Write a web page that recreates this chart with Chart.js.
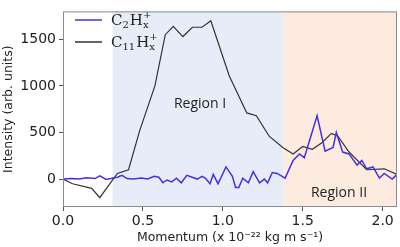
<!DOCTYPE html>
<html>
<head>
<meta charset="utf-8">
<script src="https://cdn.jsdelivr.net/npm/chart.js@4/dist/chart.umd.min.js"></script>
<style>
  html, body { margin: 0; padding: 0; background: #fff; }
  #wrap { width: 400px; height: 247px; }
</style>
</head>
<body>
<div id="wrap"><canvas id="grafica"></canvas></div>
<script>
// Datos
const c11X = [0.00, 0.06, 0.18, 0.23, 0.34, 0.41, 0.48, 0.575, 0.64, 0.69, 0.75, 0.81, 0.87, 0.925, 1.04, 1.15, 1.21, 1.29, 1.375, 1.44, 1.50, 1.56, 1.62, 1.68, 1.72, 1.79, 1.90, 2.01, 2.09];
const c11Y = [0, -50, -100, -200, 60, 100, 520, 1000, 1550, 1640, 1530, 1630, 1630, 1700, 1110, 710, 680, 460, 340, 270, 350, 320, 390, 490, 460, 290, 100, 110, 50];

const c2X = [0.00, 0.05, 0.10, 0.15, 0.20, 0.23, 0.27, 0.30, 0.34, 0.37, 0.40, 0.44, 0.49, 0.53, 0.57, 0.60, 0.625, 0.65, 0.68, 0.71, 0.74, 0.775, 0.84, 0.87, 0.89, 0.92, 0.94, 0.97, 1.02, 1.06, 1.08, 1.10, 1.125, 1.16, 1.19, 1.23, 1.26, 1.28, 1.31, 1.34, 1.39, 1.44, 1.48, 1.51, 1.59, 1.64, 1.69, 1.71, 1.75, 1.79, 1.84, 1.87, 1.90, 1.94, 1.98, 2.01, 2.06, 2.09];
const c2Y = [0, 5, 0, 15, 5, 35, -5, 5, 20, 40, 5, 0, 10, 0, 30, 20, -40, -10, -30, 10, -40, 40, 0, 30, 10, -50, 50, -50, 130, 30, -90, -90, 10, -40, 80, -40, 0, -40, 70, 60, 10, 200, 270, 230, 680, 300, 340, 500, 290, 270, 150, 200, 110, 130, 10, 60, 0, 50];

const xTicks = [0, 0.5, 1.0, 1.5, 2.0];
const yTicks = [0, 500, 1000, 1500];
const regionI = [0.31, 1.38];
const regionII = [1.38, 2.09];

const toPts = (xs, ys) => xs.map((x, i) => ({ x: x, y: ys[i] }));

// Sombreado de las regiones y textos
const regiones = {
  id: 'regiones',
  beforeDatasetsDraw(chart) {
    const { ctx, chartArea: a, scales: { x, y } } = chart;
    ctx.save();
    ctx.fillStyle = '#e7edf8';
    ctx.fillRect(x.getPixelForValue(regionI[0]), a.top, x.getPixelForValue(regionI[1]) - x.getPixelForValue(regionI[0]), a.bottom - a.top);
    ctx.fillStyle = '#fdebe0';
    ctx.fillRect(x.getPixelForValue(regionII[0]), a.top, a.right - x.getPixelForValue(regionII[0]), a.bottom - a.top);
    ctx.fillStyle = '#222';
    ctx.font = '14px "Open Sans"';
    ctx.textAlign = 'center';
    ctx.textBaseline = 'middle';
    ctx.fillText('Region I', 200, 104);
    ctx.fillText('Region II', 339, 193);
    ctx.restore();
  },
  afterDraw(chart) {
    const { ctx, chartArea: a } = chart;
    ctx.save();
    // marco
    ctx.strokeStyle = '#8c8c8c';
    ctx.lineWidth = 1;
    ctx.strokeRect(a.left + 0.5, a.top + 0.5, a.right - a.left - 1, a.bottom - a.top - 1);
    // leyenda
    const items = [
      { color: '#4433dd', num: '2', y: 20 },
      { color: '#333333', num: '11', y: 42 }
    ];
    items.forEach(it => {
      ctx.strokeStyle = it.color;
      ctx.lineWidth = 1.5;
      ctx.beginPath();
      ctx.moveTo(75, it.y);
      ctx.lineTo(102, it.y);
      ctx.stroke();
      ctx.fillStyle = '#222';
      ctx.textBaseline = 'alphabetic';
      ctx.textAlign = 'left';
      let px = 111;
      const base = it.y + 5;
      ctx.font = '15px "DejaVu Serif"';
      ctx.fillText('C', px, base); px += ctx.measureText('C').width;
      ctx.font = '10px "DejaVu Serif"';
      ctx.fillText(it.num, px, base + 3); px += ctx.measureText(it.num).width + 1;
      ctx.font = '15px "DejaVu Serif"';
      ctx.fillText('H', px, base); px += ctx.measureText('H').width;
      ctx.font = '10px "DejaVu Serif"';
      ctx.fillText('x', px, base + 3);
      ctx.fillText('+', px, base - 7);
    });
    ctx.restore();
  }
};

new Chart(document.getElementById('grafica'), {
  type: 'line',
  data: {
    datasets: [
      {
        label: 'C2Hx+',
        data: toPts(c2X, c2Y),
        borderColor: '#4433dd',
        borderWidth: 1.5,
        pointRadius: 0,
        tension: 0
      },
      {
        label: 'C11Hx+',
        data: toPts(c11X, c11Y),
        borderColor: '#333333',
        borderWidth: 1.2,
        pointRadius: 0,
        tension: 0
      }
    ]
  },
  options: {
    responsive: true,
    maintainAspectRatio: false,
    animation: false,
    layout: { padding: { top: 3, right: 3, left: 0, bottom: 0 } },
    plugins: {
      legend: { display: false },
      tooltip: { enabled: false }
    },
    scales: {
      x: {
        type: 'linear',
        min: 0,
        max: 2.09,
        afterBuildTicks: s => { s.ticks = xTicks.map(v => ({ value: v })); },
        afterFit: s => { s.height = 40; },
        grid: { drawOnChartArea: false, tickLength: 4, color: '#555' },
        border: { display: false },
        ticks: {
          color: '#222',
          font: { family: 'DejaVu Sans', size: 14 },
          padding: 2,
          maxRotation: 0,
          callback: v => v.toFixed(1)
        },
        title: {
          display: true,
          text: 'Momentum (x 10⁻²² kg m s⁻¹)',
          color: '#222',
          font: { family: 'DejaVu Sans', size: 12.5 },
          padding: { top: 0, bottom: 2 }
        }
      },
      y: {
        min: -300,
        max: 1800,
        afterBuildTicks: s => { s.ticks = yTicks.map(v => ({ value: v })); },
        afterFit: s => { s.width = 63; },
        grid: { drawOnChartArea: false, tickLength: 4, color: '#555' },
        border: { display: false },
        ticks: {
          color: '#222',
          font: { family: 'DejaVu Sans', size: 14 },
          padding: 3,
          callback: v => String(v)
        },
        title: {
          display: true,
          text: 'Intensity (arb. units)',
          color: '#222',
          font: { family: 'DejaVu Sans', size: 12.5 },
          padding: { top: 1, bottom: 0 }
        }
      }
    }
  },
  plugins: [regiones]
});
</script>
</body>
</html>
